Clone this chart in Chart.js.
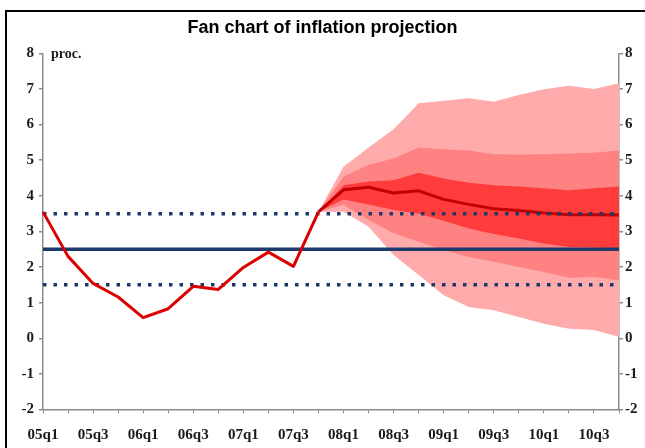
<!DOCTYPE html>
<html><head><meta charset="utf-8">
<script src="https://cdn.jsdelivr.net/npm/chart.js@4"></script>
<style>
html,body{margin:0;padding:0;background:#fff;overflow:hidden}
#wrap{position:relative;width:645px;height:448px}
#frame{position:absolute;left:5px;top:10px;width:700px;height:500px;border-left:2px solid #000;border-top:2px solid #000;pointer-events:none}
</style></head>
<body><div id="wrap"><canvas id="c" width="645" height="448"></canvas><div id="frame"></div></div>
<script>
const quarters = ['05q1','05q2','05q3','05q4','06q1','06q2','06q3','06q4','07q1','07q2','07q3','07q4',
                  '08q1','08q2','08q3','08q4','09q1','09q2','09q3','09q4','10q1','10q2','10q3','10q4'];
const yTicks = [-2,-1,0,1,2,3,4,5,6,7,8];
// Observed inflation 05q1..07q4
const inflation = [3.55, 2.3, 1.54, 1.16, 0.58, 0.83, 1.46, 1.37, 1.99, 2.42, 2.02, 3.55];
// Projection 07q4..10q4 (central path and band edges)
const central  = [3.55, 4.17, 4.24, 4.08, 4.14, 3.90, 3.76, 3.64, 3.59, 3.52, 3.47, 3.47, 3.46];
const innerUp  = [3.55, 4.30, 4.40, 4.44, 4.65, 4.49, 4.37, 4.30, 4.26, 4.21, 4.16, 4.21, 4.26];
const innerLo  = [3.55, 3.90, 3.76, 3.60, 3.50, 3.30, 3.08, 2.93, 2.80, 2.66, 2.56, 2.55, 2.53];
const midUp    = [3.55, 4.54, 4.87, 5.05, 5.36, 5.31, 5.27, 5.17, 5.16, 5.17, 5.19, 5.21, 5.27];
const midLo    = [3.55, 3.75, 3.32, 2.95, 2.71, 2.48, 2.28, 2.15, 2.00, 1.86, 1.70, 1.72, 1.63];
const outerUp  = [3.55, 4.82, 5.36, 5.87, 6.60, 6.67, 6.74, 6.64, 6.83, 6.99, 7.09, 7.00, 7.16];
const outerLo  = [3.55, 3.55, 3.13, 2.34, 1.78, 1.21, 0.88, 0.79, 0.60, 0.41, 0.27, 0.23, 0.04];
const target = 2.5, tolUpper = 3.5, tolLower = 1.5;

const histData = inflation.concat(Array(quarters.length - inflation.length).fill(null));
const proj = a => Array(quarters.length - a.length).fill(null).concat(a);
const flat = v => quarters.map(() => v);

const serif = '"Liberation Serif","Times New Roman",serif';
const axisGray = '#8c8c8c';
const navy = '#1b3a6b';

const bandBase = {pointRadius:0, borderWidth:0, tension:0, order:10};
const lineBase = {pointRadius:0, tension:0, fill:false, borderCapStyle:'butt', borderJoinStyle:'round'};

const procLabel = {
  id:'procLabel',
  afterDraw(chart){
    const ctx = chart.ctx, y = chart.scales.y.getPixelForValue(8);
    ctx.save();
    ctx.font = 'bold 14px ' + serif;
    ctx.fillStyle = '#1a1a1a';
    ctx.textBaseline = 'middle';
    ctx.fillText('proc.', 51, y + 1);
    ctx.restore();
  }
};

const yCommon = {
  type:'linear', min:-2, max:8, display:true,
  afterBuildTicks: s => { s.ticks = yTicks.map(v => ({value:v})); },
  grid:{drawOnChartArea:false, drawTicks:true, tickLength:4, color:axisGray, lineWidth:1.5},
  border:{display:true, color:axisGray, width:1.5},
};

new Chart(document.getElementById('c'), {
  type:'line',
  data:{
    labels: quarters,
    datasets:[
      {...lineBase, label:'inflation', data:histData, borderColor:'#dc0000', borderWidth:3, order:0},
      {...lineBase, label:'tolUp', data:flat(tolUpper), borderColor:navy, borderWidth:3.5, borderDash:[3.5,7], order:1},
      {...lineBase, label:'tolLo', data:flat(tolLower), borderColor:navy, borderWidth:3.5, borderDash:[3.5,7], order:1},
      {...lineBase, label:'central', data:proj(central), borderColor:'#bf0000', borderWidth:3, order:2},
      {...lineBase, label:'target', data:flat(target), borderColor:navy, borderWidth:3.5, order:3},
      {...bandBase, label:'innerUp', data:proj(innerUp), fill:'+1', backgroundColor:'#ff3c3c'},
      {...bandBase, label:'innerLo', data:proj(innerLo), fill:false},
      {...bandBase, label:'midUp', data:proj(midUp), fill:'+1', backgroundColor:'#ff8282'},
      {...bandBase, label:'midLo', data:proj(midLo), fill:false},
      {...bandBase, label:'outerUp', data:proj(outerUp), fill:'+1', backgroundColor:'#ffabab'},
      {...bandBase, label:'outerLo', data:proj(outerLo), fill:false}
    ]
  },
  options:{
    responsive:false, animation:false,
    layout:{padding:0},
    plugins:{
      legend:{display:false}, tooltip:{enabled:false},
      filler:{drawTime:'beforeDatasetsDraw'},
      title:{display:true, text:'Fan chart of inflation projection', color:'#000',
             font:{family:'"Liberation Sans", Arial, sans-serif', size:18, weight:'bold', lineHeight:1.2},
             padding:{top:17, bottom:14.8}}
    },
    scales:{
      x:{
        type:'category', offset:false,
        grid:{drawOnChartArea:false, drawTicks:true, tickLength:4, color:axisGray, lineWidth:1},
        border:{display:true, color:axisGray, width:1.5},
        ticks:{autoSkip:false, maxRotation:0, minRotation:0, padding:13, color:'#1a1a1a',
               font:{family:serif, size:15, weight:'bold'},
               callback:(v,i)=> i % 2 === 0 ? quarters[i] : ''},
        afterFit: s => { s.height = 38.5; }
      },
      y:{...yCommon, position:'left',
         ticks:{padding:5, color:'#1a1a1a', font:{family:serif, size:15, weight:'bold'}},
         afterFit: s => { s.width = 43; }},
      y2:{...yCommon, position:'right',
         ticks:{padding:2, color:'#1a1a1a', font:{family:serif, size:15, weight:'bold'}},
         afterFit: s => { s.width = 26; }}
    }
  },
  plugins:[procLabel]
});
</script>
</body></html>
